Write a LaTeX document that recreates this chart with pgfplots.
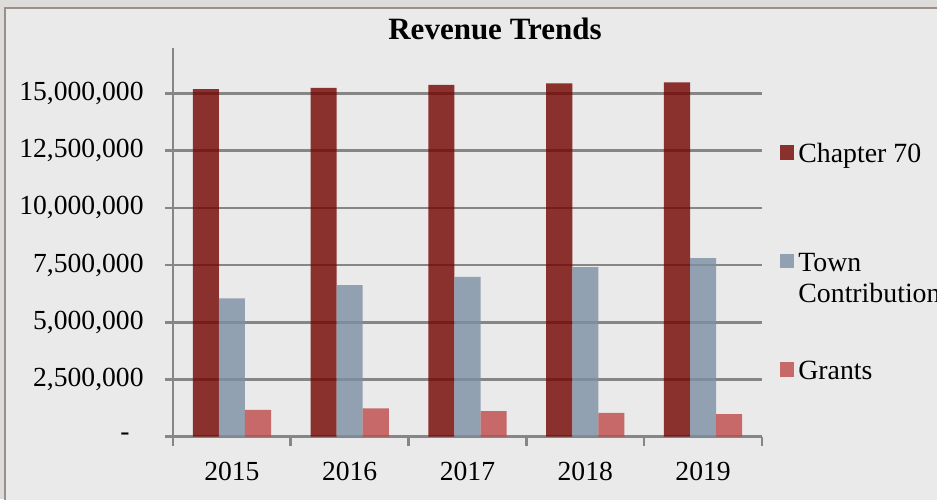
\documentclass[border=0pt]{standalone}
\usepackage{fontspec}
\setmainfont{Liberation Serif}
\usepackage{pgfplots}
\pgfplotsset{compat=1.18}

\definecolor{outerbg}{HTML}{DEDCDA}
\definecolor{panelbg}{HTML}{EAEAEA}
\definecolor{panelline}{HTML}{9C8F88}
\definecolor{gridgray}{HTML}{868686}
\definecolor{chap}{RGB}{114,3,0}
\definecolor{town}{RGB}{125,143,163}
\definecolor{grants}{RGB}{191,73,73}

\begin{document}
\begin{tikzpicture}
\useasboundingbox (0,0) rectangle (468.5pt,249.5pt);
\fill[outerbg] (0,0) rectangle (468.5pt,249.5pt);
\fill[panelbg] (2.5pt,-5pt) rectangle (480pt,245.5pt);
\draw[panelline, line width=1.2pt] (2.5pt,-5pt) -- (2.5pt,245.5pt) -- (480pt,245.5pt);
\node[anchor=base, font=\bfseries\fontsize{15.5}{18}\selectfont] at (247.5pt,229.85pt) {Revenue Trends};

\begin{axis}[
    at={(86.5pt,31.15pt)}, anchor=south west,
    scale only axis,
    width=294.5pt, height=194.5pt,
    ybar=0pt, bar width=0.2213,
    xmin=-0.5, xmax=4.5,
    ymin=0, ymax=17000000,
    axis lines*=left,
    axis line style={gridgray, line width=1.3pt},
    ymajorgrids,
    grid style={gridgray, line width=1.3pt},
    tick align=outside,
    tick style={gridgray, line width=1.3pt},
    major tick length=4pt,
    minor tick length=4.5pt,
    major x tick style={draw=none},
    xtick={0,1,2,3,4},
    xticklabels={2015,2016,2017,2018,2019},
    minor xtick={-0.5,0.5,1.5,2.5,3.5,4.5},
    ytick={0,2500000,5000000,7500000,10000000,12500000,15000000},
    yticklabels={{-\rule{7pt}{0pt}},{2,500,000},{5,000,000},{7,500,000},{10,000,000},{12,500,000},{15,000,000}},
    scaled y ticks=false,
    ticklabel style={font=\fontsize{13.8}{16}\selectfont, inner sep=0pt},
    yticklabel style={anchor=east, xshift=-10.5pt},
    xticklabel style={anchor=north, yshift=-8.5pt},
    % fixed text height/depth: the two-line entry does not push the next row down
    legend style={at={(axis description cs:1.0306,0.7720)}, anchor=north west,
        draw=none, fill=none, inner sep=0pt, row sep=38.15pt, column sep=2pt,
        font=\fontsize{13.9}{15.9}\selectfont,
        nodes={inner sep=0pt, text height=13pt, text depth=3pt}},
    legend cell align=left,
    legend image code/.code={\path[#1,draw=none] (0pt,-3.65pt) rectangle (7pt,3.7pt);},
]
\addplot[fill=chap, fill opacity=0.8, draw=none] coordinates {
    (0,15190000) (1,15240000) (2,15380000) (3,15440000) (4,15480000)};
\addlegendentry{Chapter 70}
\addplot[fill=town, fill opacity=0.8, draw=none] coordinates {
    (0,6050000) (1,6620000) (2,6980000) (3,7410000) (4,7800000)};
\addlegendentry{\parbox[t]{90pt}{Town\\Contribution}}
\addplot[fill=grants, fill opacity=0.8, draw=none] coordinates {
    (0,1170000) (1,1240000) (2,1120000) (3,1040000) (4,990000)};
\addlegendentry{Grants}
\end{axis}
\end{tikzpicture}
\end{document}
